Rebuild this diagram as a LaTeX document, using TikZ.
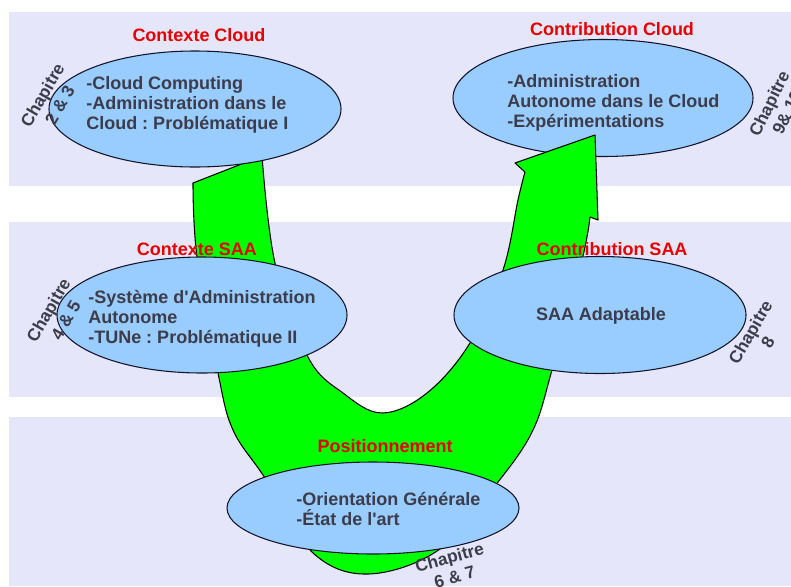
\documentclass[tikz,border=0pt]{standalone}
\usepackage{fontspec}
\usetikzlibrary{shapes.geometric}
\newfontfamily\saafont{Liberation Sans}
\frenchspacing
\definecolor{fond}{RGB}{230,230,250}
\definecolor{bleuclair}{RGB}{153,204,255}
\definecolor{bord}{RGB}{20,20,40}
\definecolor{vertvif}{RGB}{0,255,0}
\definecolor{grisfonce}{RGB}{60,60,75}
\definecolor{rougetitre}{RGB}{230,0,0}
\tikzset{
  bande/.style={fill=fond},
  bulle/.style={ellipse, draw=bord, fill=bleuclair, line width=0.8pt, inner sep=0pt},
  fleche/.style={fill=vertvif, draw=black, line width=0.8pt, line join=round},
  contenu/.style={font=\saafont\bfseries\fontsize{13.5}{15}\selectfont, text=grisfonce, align=left, inner sep=0pt},
  titre/.style={font=\saafont\bfseries\fontsize{13.5}{15}\selectfont, text=rougetitre, inner sep=0pt},
  chap/.style={font=\saafont\bfseries\fontsize{13}{15}\selectfont, text=grisfonce, align=center, inner sep=0pt}
}
\begin{document}
\begin{tikzpicture}[x=0.75pt, y=-0.75pt]
  \useasboundingbox (0,0) rectangle (791,586);
  \clip (0,0) rectangle (791,586);
  \fill[bande] (9,12) rectangle (791,186);
  \fill[bande] (9,222) rectangle (791,397);
  \fill[bande] (9,417) rectangle (791,586);

  \node[bulle, minimum width=225pt, minimum height=87.75pt] (contribcloud) at (603,98) {};

  \filldraw[fleche] (193,183) -- plot[smooth, tension=0.6] coordinates {(193,183) (197,257) (218,373) (233,430) (265,478) (312,552) (368,574) (440,549) (498,482) (533,430) (552,370) (582,260) (590,217)}
    -- (598,220) -- (595,135) -- (515,163) -- (525,172)
    -- plot[smooth, tension=0.6] coordinates {(525,172) (518,200) (503,270) (470,343) (427,393) (382,413) (343,393) (308,357) (275,263) (262,156)}
    -- cycle;

  \node[bulle, minimum width=219pt, minimum height=87pt] (ctxcloud) at (195,109) {};
  \node[bulle, minimum width=217.5pt, minimum height=87pt] (ctxsaa) at (202,315) {};
  \node[bulle, minimum width=219pt, minimum height=87.75pt] (contribsaa) at (600,315) {};
  \node[bulle, minimum width=219pt, minimum height=69pt] (position) at (373,508) {};

  \node[contenu, anchor=west] (txtctxcloud) at (86,104.5) {-Cloud Computing\\-Administration dans le\\Cloud : Problématique I};
  \node[contenu, anchor=west] (txtcontribcloud) at (507,103) {-Administration\\Autonome dans le Cloud\\-Expérimentations};
  \node[contenu, anchor=west] (txtctxsaa) at (88,319) {-Système d'Administration\\Autonome\\-TUNe : Problématique II};
  \node[contenu] (txtcontribsaa) at (601,316) {SAA Adaptable};
  \node[contenu, anchor=west] (txtposition) at (296,509) {-Orientation Générale\\-État de l'art};

  \node[titre] (ttctxcloud) at (199,35) {Contexte Cloud};
  \node[titre] (ttcontribcloud) at (612,29) {Contribution Cloud};
  \node[titre] (ttctxsaa) at (197,249.5) {Contexte SAA};
  \node[titre] (ttcontribsaa) at (612,249) {Contribution SAA};
  \node[titre] (ttposition) at (385,446.5) {Positionnement};

  \node[chap, rotate=60] (chap23) at (51,100) {Chapitre\\2 \& 3};
  \node[chap, rotate=60] (chap45) at (57,315) {Chapitre\\4 \& 5};
  \node[chap, rotate=64] (chap910) at (778,108) {Chapitre\\9\& 10};
  \node[chap, rotate=60] (chap8) at (759,337) {Chapitre\\8};
  \node[chap, rotate=15] (chap67) at (452,567) {Chapitre\\6 \& 7};
\end{tikzpicture}
\end{document}
